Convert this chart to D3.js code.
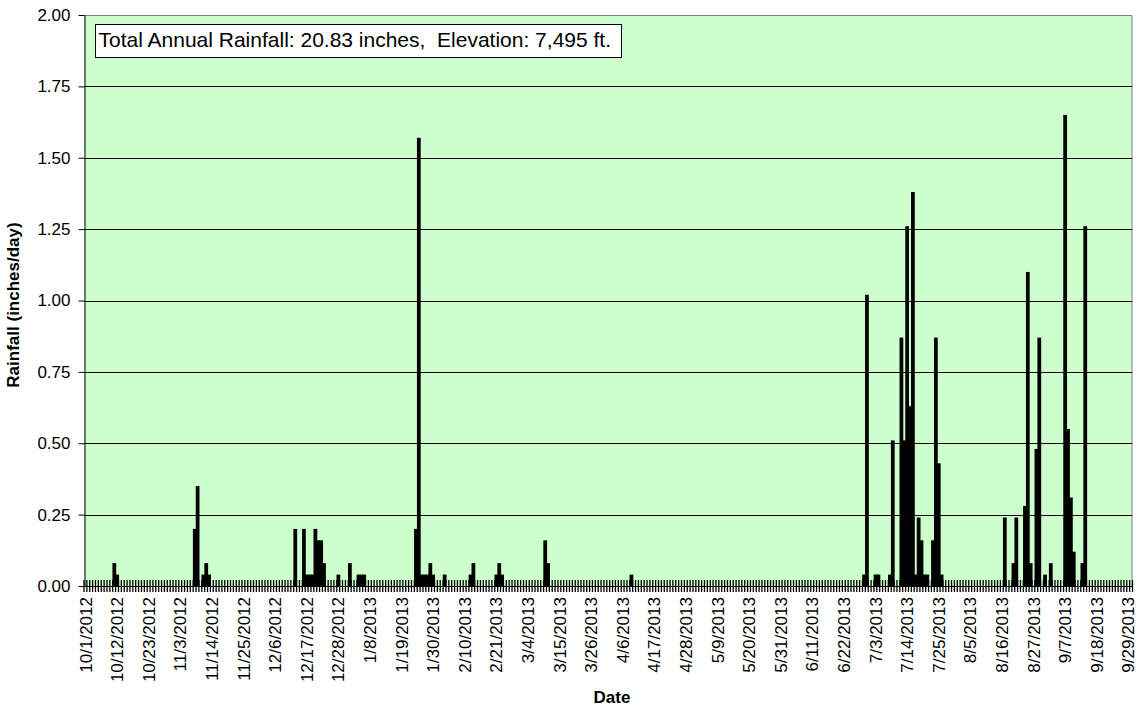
<!DOCTYPE html>
<html>
<head>
<meta charset="utf-8">
<script src="https://cdn.jsdelivr.net/npm/d3@7"></script>
<style>
  body { margin: 0; background: #fff; }
  text { font-family: "Liberation Sans", Arial, sans-serif; fill: #000; }
</style>
</head>
<body>
<div id="chart"></div>
<script>
// days with measurable rain (every other day of the water year is 0)
var wetDays = [
  "2012-10-11", "2012-10-12",
  "2012-11-08", "2012-11-09", "2012-11-11", "2012-11-12", "2012-11-13",
  "2012-12-13", "2012-12-16", "2012-12-17", "2012-12-18", "2012-12-19", "2012-12-20",
  "2012-12-21", "2012-12-22", "2012-12-23", "2012-12-28",
  "2013-01-01", "2013-01-04", "2013-01-05", "2013-01-06",
  "2013-01-24", "2013-01-25", "2013-01-26", "2013-01-27", "2013-01-28", "2013-01-29", "2013-01-30",
  "2013-02-03", "2013-02-12", "2013-02-13", "2013-02-21", "2013-02-22", "2013-02-23",
  "2013-03-10", "2013-03-11",
  "2013-04-09",
  "2013-06-29", "2013-06-30",
  "2013-07-03", "2013-07-04", "2013-07-08", "2013-07-09", "2013-07-12", "2013-07-13",
  "2013-07-14", "2013-07-15", "2013-07-16", "2013-07-17", "2013-07-18", "2013-07-19",
  "2013-07-20", "2013-07-21", "2013-07-23", "2013-07-24", "2013-07-25", "2013-07-26",
  "2013-08-17", "2013-08-20", "2013-08-21", "2013-08-24", "2013-08-25", "2013-08-26",
  "2013-08-28", "2013-08-29", "2013-08-31",
  "2013-09-02", "2013-09-07", "2013-09-08", "2013-09-09", "2013-09-10", "2013-09-13", "2013-09-14"
];
var wetRain = [
  0.08, 0.04,
  0.20, 0.35, 0.04, 0.08, 0.04,
  0.20, 0.20, 0.04, 0.04, 0.04, 0.20,
  0.16, 0.16, 0.08, 0.04,
  0.08, 0.04, 0.04, 0.04,
  0.20, 1.57, 0.04, 0.04, 0.04, 0.08, 0.04,
  0.04, 0.04, 0.08, 0.04, 0.08, 0.04,
  0.16, 0.08,
  0.04,
  0.04, 1.02,
  0.04, 0.04, 0.04, 0.51, 0.87, 0.51,
  1.26, 0.63, 1.38, 0.04, 0.24, 0.16,
  0.04, 0.04, 0.16, 0.87, 0.43, 0.04,
  0.24, 0.08, 0.24, 0.28, 1.10, 0.08,
  0.48, 0.87, 0.04,
  0.08, 1.65, 0.55, 0.31, 0.12, 0.08, 1.26
];
var yTicks = [0, 0.25, 0.5, 0.75, 1, 1.25, 1.5, 1.75, 2];
var labelEvery = 11;
var noteText = "Total Annual Rainfall: 20.83 inches,  Elevation: 7,495 ft.";

var margin = {top: 15, right: 5.5, bottom: 123, left: 84},
  width = 1138 - margin.left - margin.right,
  height = 709 - margin.top - margin.bottom;

var keyFmt = d3.timeFormat("%Y-%m-%d");
var labelFmt = d3.timeFormat("%-m/%-d/%Y");
var parse = d3.timeParse("%Y-%m-%d");

var rainByDay = {};
wetDays.forEach(function(d, i) { rainByDay[d] = wetRain[i]; });

var days = d3.timeDay.range(new Date(2012, 9, 1), new Date(2013, 9, 1));
var data = days.map(function(d) {
  var k = keyFmt(d);
  return {key: k, value: rainByDay[k] || 0};
});

var svg = d3.select("#chart")
  .append("svg")
    .attr("width", 1138)
    .attr("height", 709);

var chart = svg.append("g")
    .attr("transform", "translate(" + margin.left + "," + margin.top + ")");

var x = d3.scaleBand()
  .domain(data.map(function(d) { return d.key; }))
  .range([0, width])
  .padding(0);

var y = d3.scaleLinear()
  .domain([0, 2])
  .range([height, 0]);

// plot area
chart.append("rect")
    .attr("width", width)
    .attr("height", height)
    .attr("fill", "#ccffcc");

// gridlines
chart.append("g")
  .selectAll("line")
  .data(yTicks.filter(function(v) { return v > 0 && v < 2; }))
  .enter().append("line")
    .attr("x1", 0)
    .attr("x2", width)
    .attr("y1", function(d) { return Math.round(y(d)) + 0.5; })
    .attr("y2", function(d) { return Math.round(y(d)) + 0.5; })
    .attr("stroke", "#000")
    .attr("stroke-width", 1);

// top / right border
chart.append("path")
    .attr("d", "M0,0.5H" + (width - 0.5) + "V" + height)
    .attr("fill", "none")
    .attr("stroke", "#808080");

// bars (slightly wider than a day so neighbours merge like the original)
chart.append("g")
  .selectAll("rect")
  .data(data.filter(function(d) { return d.value > 0; }))
  .enter().append("rect")
    .attr("x", function(d) { return x(d.key) - 0.3; })
    .attr("width", x.bandwidth() + 0.9)
    .attr("y", function(d) { return y(d.value); })
    .attr("height", function(d) { return height - y(d.value); })
    .attr("fill", "#000");

// y axis
var yAxis = chart.append("g")
    .attr("transform", "translate(0.5,0)")
    .call(d3.axisLeft(y).tickValues(yTicks).tickFormat(d3.format(".2f"))
      .tickSize(6).tickSizeOuter(0).tickPadding(8));
yAxis.select(".domain").attr("stroke", "#000");
yAxis.selectAll("line").attr("stroke", "#000");
yAxis.selectAll("text")
    .style("font-size", "17px")
    .style("font-family", "'Liberation Sans', Arial, sans-serif");

// x axis: a cross tick at every day boundary
var bounds = data.map(function(d) { return x(d.key); }).concat([width]);
chart.append("g")
  .selectAll("line")
  .data(bounds)
  .enter().append("line")
    .attr("x1", function(d) { return d; })
    .attr("x2", function(d) { return d; })
    .attr("y1", height - 6)
    .attr("y2", height + 6)
    .attr("stroke", "#000")
    .attr("stroke-width", 1.3);

chart.append("line")
    .attr("x1", 0)
    .attr("x2", width)
    .attr("y1", height + 0.5)
    .attr("y2", height + 0.5)
    .attr("stroke", "#000");

var labelKeys = data.filter(function(d, i) { return i % labelEvery === 0; })
  .map(function(d) { return d.key; });

var xAxis = chart.append("g")
    .attr("transform", "translate(0," + height + ")")
    .call(d3.axisBottom(x).tickValues(labelKeys).tickSize(0)
      .tickFormat(function(k) { return labelFmt(parse(k)); }));
xAxis.select(".domain").remove();
xAxis.selectAll("text")
    .attr("transform", "rotate(-90)")
    .attr("x", -11)
    .attr("y", 0)
    .attr("dy", "0.36em")
    .style("text-anchor", "end")
    .style("font-size", "17px")
    .style("font-family", "'Liberation Sans', Arial, sans-serif");

// note box
var note = chart.append("g");
note.append("rect")
    .attr("x", 11.5)
    .attr("y", 9.5)
    .attr("width", 526)
    .attr("height", 33)
    .attr("fill", "#fff")
    .attr("stroke", "#000");
note.append("text")
    .attr("x", 14.5)
    .attr("y", 32)
    .style("font-size", "21px")
    .style("white-space", "pre")
    .text(noteText);

// axis titles
svg.append("text")
    .attr("transform", "translate(19,305) rotate(-90)")
    .attr("text-anchor", "middle")
    .style("font-size", "17px")
    .style("font-weight", "bold")
    .text("Rainfall (inches/day)");

svg.append("text")
    .attr("x", 612)
    .attr("y", 703)
    .attr("text-anchor", "middle")
    .style("font-size", "17px")
    .style("font-weight", "bold")
    .text("Date");
</script>
</body>
</html>
